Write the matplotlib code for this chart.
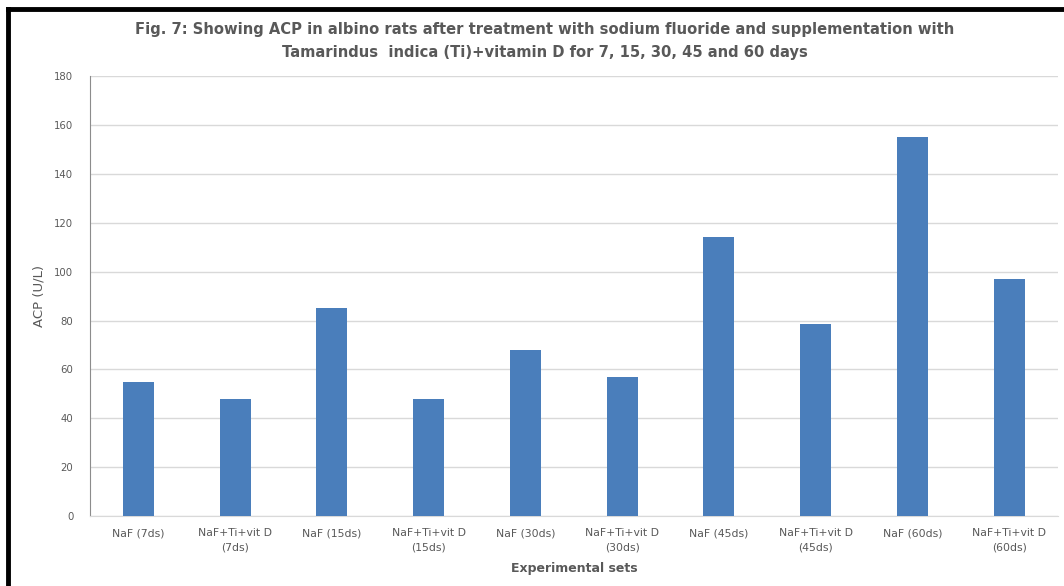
import matplotlib.pyplot as plt
from matplotlib.lines import Line2D

# ACP values per experimental set
sets = ["NaF (7ds)", "NaF+Ti+vit D\n(7ds)", "NaF (15ds)", "NaF+Ti+vit D\n(15ds)",
        "NaF (30ds)", "NaF+Ti+vit D\n(30ds)", "NaF (45ds)", "NaF+Ti+vit D\n(45ds)",
        "NaF (60ds)", "NaF+Ti+vit D\n(60ds)"]
acp = [55, 48, 85, 48, 68, 57, 114, 78.5, 155, 97]
yticks = list(range(0, 181, 20))

plt.rcParams['font.family'] = ['DejaVu Sans']

fig = plt.figure(figsize=(10.64, 5.86), dpi=100)
ax = fig.add_axes([0.0846, 0.1195, 0.9094, 0.7505])

x = list(range(len(sets)))
ax.bar(x, acp, width=0.32, color="#4a7ebb", zorder=3)

ax.set_xlim(-0.5, len(sets) - 0.5)
ax.set_ylim(0, 180)
ax.set_yticks(yticks)
ax.set_xticks(x)
ax.set_xticklabels(sets, fontsize=7.8, color="#595959", linespacing=1.5)
ax.tick_params(axis="y", labelsize=7.3, labelcolor="#595959", length=0, pad=12)
ax.tick_params(axis="x", length=0, pad=9)
ax.grid(axis="y", color="#d9d9d9", linewidth=1, zorder=0)

for side in ["top", "right"]:
    ax.spines[side].set_visible(False)
ax.spines["left"].set_color("#8c8c8c")
ax.spines["bottom"].set_color("#d9d9d9")

ax.set_ylabel("ACP (U/L)", fontsize=9.5, color="#595959", labelpad=6)
ax.set_xlabel("Experimental sets", fontsize=9, color="#595959",
              fontweight="bold", labelpad=7)

fig.text(0.512, 0.930,
         "Fig. 7: Showing ACP in albino rats after treatment with sodium fluoride and supplementation with\n"
         "Tamarindus  indica (Ti)+vitamin D for 7, 15, 30, 45 and 60 days",
         ha="center", va="center", fontsize=10.6, fontweight="semibold", color="#595959",
         linespacing=1.6)

# black frame on the left and top edges
fig.add_artist(Line2D([8 / 1064, 8 / 1064], [0, 1 - 9 / 586], color="black",
                      linewidth=3.5, transform=fig.transFigure))
fig.add_artist(Line2D([8 / 1064, 1], [1 - 9 / 586, 1 - 9 / 586], color="black",
                      linewidth=3.5, transform=fig.transFigure))

fig.savefig("out.png", dpi=100)
